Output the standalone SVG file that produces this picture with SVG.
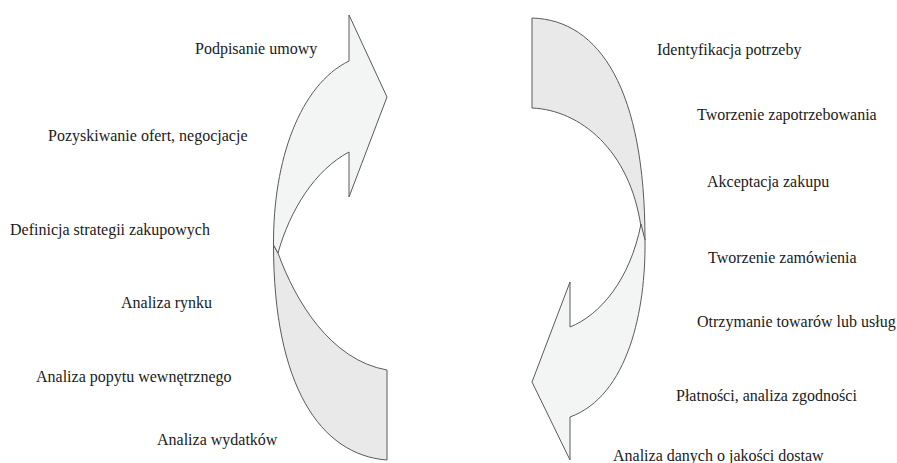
<svg xmlns="http://www.w3.org/2000/svg" width="897" height="463" viewBox="0 0 897 463">
<style>
.band{fill:#e9e9e9;stroke:#5a5a5a;stroke-width:1}
.arrow{fill:#f3f4f4;stroke:#5a5a5a;stroke-width:1}
.lbl{font-family:"Liberation Serif","Times New Roman",serif;font-size:16px;fill:#1a1a1a}
</style>
<rect width="897" height="463" fill="#ffffff"/>
<g id="left-cycle">
<path class="band" d="M387,460 L387,370 C330,360 295,300 278,253 L273.5,245 C273.5,385 320,455 387,460 Z"/>
<path class="arrow" d="M273.5,245 C273,160 300,85 349,61 L349,15 L387,97 L349,197 L349,152 C315,170 290,210 278,253 Z"/>
</g>
<g id="right-cycle">
<path class="band" d="M532,18 L532,108 C580,110 630,150 641,227 L645,240 C645,90 600,20 532,18 Z"/>
<path class="arrow" d="M641,224 L645,240 C646,310 628,396 570,417 L570,460 L532,382 L570,282 L570,327 C600,315 630,280 641,224 Z"/>
</g>
<g id="labels-left">
<text class="lbl" x="195" y="54">Podpisanie umowy</text>
<text class="lbl" x="48" y="141">Pozyskiwanie ofert, negocjacje</text>
<text class="lbl" x="10" y="235">Definicja strategii zakupowych</text>
<text class="lbl" x="121" y="308">Analiza rynku</text>
<text class="lbl" x="36" y="382">Analiza popytu wewnętrznego</text>
<text class="lbl" x="157" y="445">Analiza wydatków</text>
</g>
<g id="labels-right">
<text class="lbl" x="657" y="55">Identyfikacja potrzeby</text>
<text class="lbl" x="697" y="120">Tworzenie zapotrzebowania</text>
<text class="lbl" x="707" y="187">Akceptacja zakupu</text>
<text class="lbl" x="708" y="263">Tworzenie zamówienia</text>
<text class="lbl" x="697" y="327">Otrzymanie towarów lub usług</text>
<text class="lbl" x="676" y="401">Płatności, analiza zgodności</text>
<text class="lbl" x="613" y="461">Analiza danych o jakości dostaw</text>
</g>
</svg>
